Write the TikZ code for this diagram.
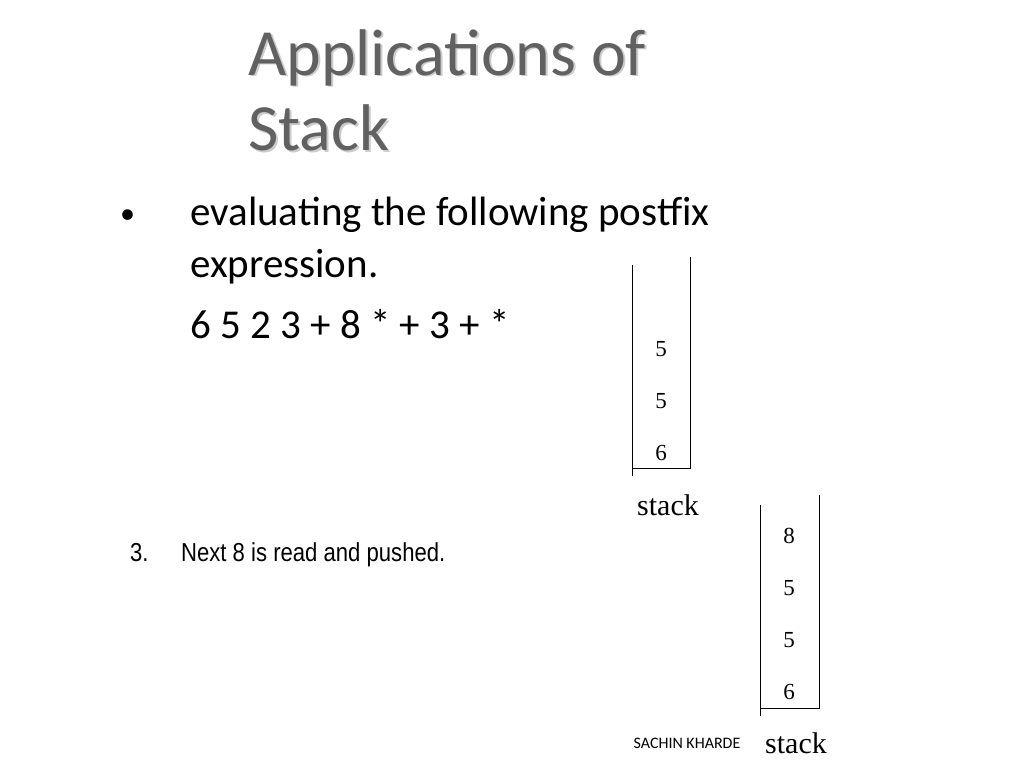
\documentclass[tikz,border=0pt]{standalone}
\usepackage{fontspec}
\setmainfont{Liberation Serif}
\newfontfamily\calfnt{Carlito}
\newfontfamily\arsfnt{Liberation Sans}
\begin{document}
\begin{tikzpicture}[x=1pt,y=-1pt,
  num/.style={font=\fontsize{23}{23}\selectfont},
  stk/.style={font=\fontsize{30}{30}\selectfont},
  body/.style={font=\calfnt\fontsize{41}{41}\selectfont,anchor=base west,inner sep=0},
  ttl/.style={font=\calfnt\fontsize{66}{66}\selectfont,anchor=base west,inner sep=0}]
\useasboundingbox[fill=white] (0,0) rectangle (1024,768);
\foreach \t/\y [count=\i] in {Applications of/75,Stack/150}{
  \node[ttl,text=black!20] at (250,\y+2) {\t};
  \node[ttl,text=black!62] (t\i) at (248,\y) {\t};}
\node[body,font=\calfnt\fontsize{30}{30}\selectfont] (bul) at (120,223) {\textbullet};
\node[body] (l1) at (190,225) {evaluating the following postfix};
\node[body] (l2) at (190,277) {expression.};
\node[body] (l3) at (190,338) {6 5 2 3 + 8 * + 3 + *};
% stack 1
\draw (632,265) -- (632,476);
\draw (690,257) -- (690,468) -- (632,468);
\node[num] (a1) at (661,349) {5};
\node[num] (a2) at (661,401) {5};
\node[num] (a3) at (661,453) {6};
\node[stk] (s1) at (668,505) {stack};
% stack 2
\draw (760,505) -- (760,716);
\draw (819,495) -- (819,708) -- (760,708);
\node[num] (b1) at (789,536) {8};
\node[num] (b2) at (789,588) {5};
\node[num] (b3) at (789,640) {5};
\node[num] (b4) at (789,692) {6};
\node[stk] (s2) at (796,743) {stack};
\node[font=\arsfnt\fontsize{26}{26}\selectfont,xscale=0.85,anchor=base west,inner sep=0] (n3) at (130,561) {3.};
\node[font=\arsfnt\fontsize{26}{26}\selectfont,xscale=0.85,anchor=base west,inner sep=0] (nx) at (181,561) {Next 8 is read and pushed.};
\node[font=\calfnt\fontsize{16}{16}\selectfont] (sk) at (687,743) {SACHIN KHARDE};
\end{tikzpicture}
\end{document}
